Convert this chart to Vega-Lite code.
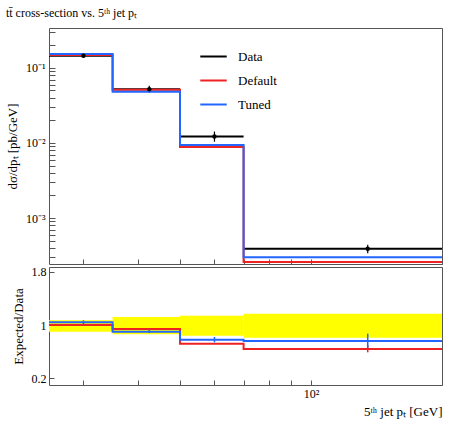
{
  "$schema": "https://vega.github.io/schema/vega-lite/v6.json",
  "padding": {"left": 5, "top": 6, "right": 16, "bottom": 5},
  "config": {
    "font": "Liberation Serif",
    "view": {"stroke": "#555"},
    "axis": {"labelFont": "Liberation Serif", "titleFont": "Liberation Serif", "labelFontSize": 12, "titleFontSize": 13, "titleFontWeight": "normal", "grid": false, "domain": false, "tickColor": "#555", "labelColor": "black"}
  },
  "title": {"text": "tt̄ cross-section vs. 5ᵗʰ jet pₜ", "anchor": "start", "fontSize": 12, "fontWeight": "normal", "font": "Liberation Serif", "offset": 8},
  "datasets": {
    "models": [
      {"series": "Default", "x": 25, "y": 0.149}, {"series": "Default", "x": 35, "y": 0.051}, {"series": "Default", "x": 50, "y": 0.0088}, {"series": "Default", "x": 70, "y": 0.00026}, {"series": "Default", "x": 200, "y": 0.00026},
      {"series": "Tuned", "x": 25, "y": 0.153}, {"series": "Tuned", "x": 35, "y": 0.048}, {"series": "Tuned", "x": 50, "y": 0.0094}, {"series": "Tuned", "x": 70, "y": 0.0003}, {"series": "Tuned", "x": 200, "y": 0.0003}
    ],
    "points": [
      {"xlo": 25, "xhi": 35, "xc": 30, "y": 0.145, "ylo": 0.137, "yhi": 0.155},
      {"xlo": 35, "xhi": 50, "xc": 42.5, "y": 0.052, "ylo": 0.047, "yhi": 0.058},
      {"xlo": 50, "xhi": 70, "xc": 60, "y": 0.0122, "ylo": 0.0104, "yhi": 0.0142},
      {"xlo": 70, "xhi": 200, "xc": 135, "y": 0.00039, "ylo": 0.00034, "yhi": 0.00044}
    ],
    "ratios": [
      {"series": "Default", "x": 25, "y": 1.0}, {"series": "Default", "x": 35, "y": 0.94}, {"series": "Default", "x": 50, "y": 0.72}, {"series": "Default", "x": 70, "y": 0.64}, {"series": "Default", "x": 200, "y": 0.64},
      {"series": "Tuned", "x": 25, "y": 1.04}, {"series": "Tuned", "x": 35, "y": 0.9}, {"series": "Tuned", "x": 50, "y": 0.78}, {"series": "Tuned", "x": 70, "y": 0.76}, {"series": "Tuned", "x": 200, "y": 0.76}
    ],
    "band": [
      {"xlo": 25, "xhi": 35, "lo": 0.9, "hi": 1.07},
      {"xlo": 35, "xhi": 50, "lo": 0.86, "hi": 1.12},
      {"xlo": 50, "xhi": 70, "lo": 0.84, "hi": 1.14},
      {"xlo": 70, "xhi": 200, "lo": 0.81, "hi": 1.17}
    ],
    "rerr": [
      {"series": "Tuned", "xc": 30, "lo": 1.01, "hi": 1.07},
      {"series": "Tuned", "xc": 42.5, "lo": 0.88, "hi": 0.93},
      {"series": "Tuned", "xc": 60, "lo": 0.74, "hi": 0.82},
      {"series": "Default", "xc": 135, "lo": 0.59, "hi": 0.7},
      {"series": "Tuned", "xc": 135, "lo": 0.66, "hi": 0.87}
    ]
  },
  "spacing": 0,
  "vconcat": [
    {
      "width": 393, "height": 236,
      "layer": [
        {
          "data": {"name": "points"},
          "mark": {"type": "rule", "strokeWidth": 2, "color": "black"},
          "encoding": {
            "x": {"field": "xlo", "type": "quantitative", "scale": {"type": "log", "domain": [25, 200], "nice": false}, "axis": {"labels": false, "title": null, "values": [30, 40, 50, 60, 70, 80, 90, 100, 200], "tickSize": -5}},
            "x2": {"field": "xhi"},
            "y": {"field": "y", "type": "quantitative", "scale": {"type": "log", "domain": [0.000244, 0.34], "nice": false}, "axis": {"title": "dσ/dpₜ [pb/GeV]", "tickSize": -6, "values": [0.0003,0.0004,0.0005,0.0006,0.0007,0.0008,0.0009,0.001,0.002,0.003,0.004,0.005,0.006,0.007,0.008,0.009,0.01,0.02,0.03,0.04,0.05,0.06,0.07,0.08,0.09,0.1,0.2,0.3], "labelExpr": "datum.value == 0.1 ? '10⁻¹' : datum.value == 0.01 ? '10⁻²' : datum.value == 0.001 ? '10⁻³' : ''", "labelPadding": 10, "titlePadding": 6}}
          }
        },
        {
          "data": {"name": "points"},
          "mark": {"type": "rule", "strokeWidth": 1.2, "color": "black"},
          "encoding": {"x": {"field": "xc", "type": "quantitative"}, "y": {"field": "ylo", "type": "quantitative"}, "y2": {"field": "yhi"}}
        },
        {
          "data": {"name": "models"},
          "mark": {"type": "line", "interpolate": "step-after", "strokeWidth": 2, "clip": true},
          "encoding": {
            "x": {"field": "x", "type": "quantitative"},
            "y": {"field": "y", "type": "quantitative"},
            "color": {"field": "series", "type": "nominal", "scale": {"domain": ["Data", "Default", "Tuned"], "range": ["black", "#ee2222", "#2266ff"]},
              "legend": {"title": null, "orient": "none", "legendX": 150, "legendY": 14, "symbolType": "stroke", "symbolSize": 700, "symbolStrokeWidth": 2, "labelFontSize": 13, "labelFont": "Liberation Serif", "labelOffset": 10, "rowPadding": 2}}
          }
        },
        {
          "data": {"name": "points"},
          "mark": {"type": "point", "filled": true, "color": "black", "size": 20, "opacity": 1},
          "encoding": {"x": {"field": "xc", "type": "quantitative"}, "y": {"field": "y", "type": "quantitative"}}
        }
      ]
    },
    {
      "width": 393, "height": 118,
      "layer": [
        {
          "data": {"name": "band"},
          "mark": {"type": "rect", "color": "yellow", "opacity": 1},
          "encoding": {
            "x": {"field": "xlo", "type": "quantitative", "scale": {"type": "log", "domain": [25, 200], "nice": false}, "axis": {"title": "5ᵗʰ jet pₜ [GeV]", "titleAnchor": "end", "titleAlign": "right", "titlePadding": 6, "values": [30, 40, 50, 60, 70, 80, 90, 100, 200], "tickSize": -5, "labelExpr": "datum.value == 100 ? '10²' : ''", "labelPadding": 8}},
            "x2": {"field": "xhi"},
            "y": {"field": "lo", "type": "quantitative", "scale": {"domain": [0.1, 1.87], "nice": false}, "axis": {"title": "Expected/Data", "values": [0.2,0.3,0.4,0.5,0.6,0.7,0.8,0.9,1,1.1,1.2,1.3,1.4,1.5,1.6,1.7,1.8], "labelExpr": "(round(datum.value*10) % 2 == 0) ? format(datum.value, '') : ''", "tickSize": -5, "labelPadding": 8, "titlePadding": 6}},
            "y2": {"field": "hi"}
          }
        },
        {
          "mark": {"type": "rule", "color": "#777", "strokeWidth": 2},
          "encoding": {"y": {"datum": 1}}
        },
        {
          "data": {"name": "ratios"},
          "mark": {"type": "line", "interpolate": "step-after", "strokeWidth": 2},
          "encoding": {
            "x": {"field": "x", "type": "quantitative"},
            "y": {"field": "y", "type": "quantitative"},
            "color": {"field": "series", "type": "nominal", "scale": {"domain": ["Data", "Default", "Tuned"], "range": ["black", "#ee2222", "#2266ff"]}, "legend": null}
          }
        },
        {
          "data": {"name": "rerr"},
          "mark": {"type": "rule", "strokeWidth": 1.5},
          "encoding": {
            "x": {"field": "xc", "type": "quantitative"},
            "y": {"field": "lo", "type": "quantitative"},
            "y2": {"field": "hi"},
            "color": {"field": "series", "type": "nominal", "legend": null}
          }
        }
      ]
    }
  ]
}
